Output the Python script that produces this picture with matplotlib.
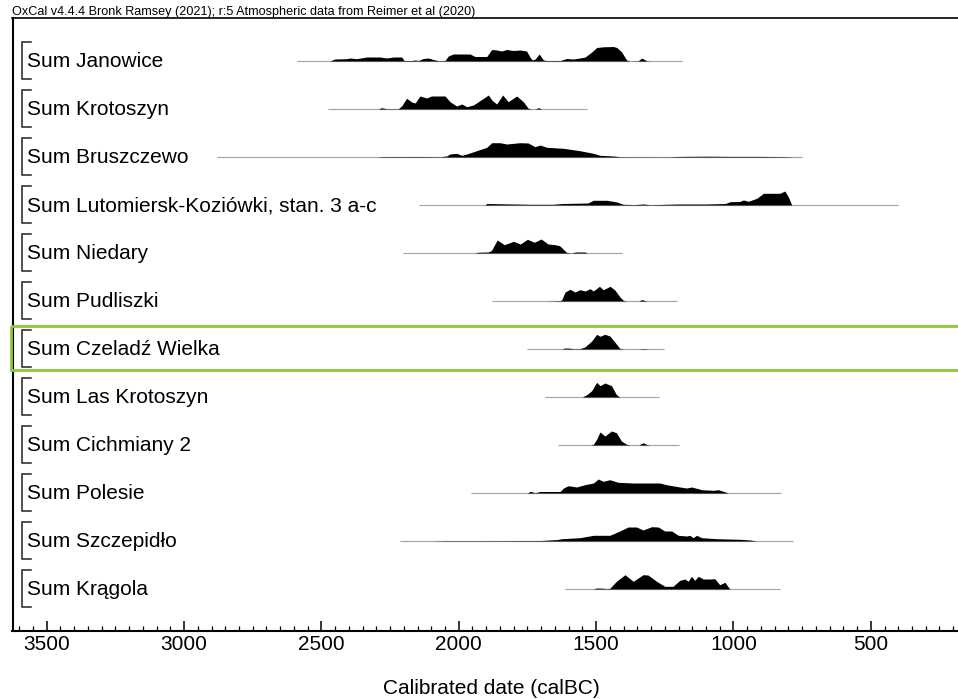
import matplotlib
matplotlib.use("Agg")
import matplotlib.pyplot as plt
from matplotlib.patches import Rectangle
from matplotlib.transforms import blended_transform_factory

plt.rcParams['font.family'] = ['Liberation Sans', 'DejaVu Sans']

TITLE = "OxCal v4.4.4 Bronk Ramsey (2021); r:5 Atmospheric data from Reimer et al (2020)"
XLABEL = "Calibrated date (calBC)"

SITES = ["Sum Janowice", "Sum Krotoszyn", "Sum Bruszczewo",
         "Sum Lutomiersk-Koziówki, stan. 3 a-c", "Sum Niedary", "Sum Pudliszki",
         "Sum Czeladź Wielka", "Sum Las Krotoszyn", "Sum Cichmiany 2",
         "Sum Polesie", "Sum Szczepidło", "Sum Krągola"]

# plotted range of each summed distribution (cal BC)
RANGE_START = [2590, 2475, 2880, 2145, 2203, 1880, 1751, 1686, 1638, 1954, 2214, 1613]
RANGE_END = [1187, 1534, 750, 400, 1405, 1207, 1254, 1270, 1197, 826, 782, 830]

# (year calBC, relative probability)
JANOWICE = [(2469, 0), (2451, 2), (2408, 2.3), (2396, 3), (2372, 2.3), (2335, 4), (2287, 4),
            (2262, 3), (2238, 4), (2208, 4), (2199, 0.5), (2171, 0.5), (2159, 1), (2147, 0.5),
            (2129, 2.5), (2111, 3), (2093, 1.5), (2074, 0.3), (2050, 0.5), (2038, 5), (2020, 7),
            (1959, 7), (1941, 4.5), (1898, 4.5), (1880, 11.5), (1862, 11), (1844, 10),
            (1826, 11.5), (1801, 10.5), (1777, 11), (1753, 10), (1741, 4), (1732, 1), (1722, 2),
            (1707, 7), (1692, 1), (1680, 0.5), (1631, 0.5), (1607, 2.5), (1583, 2), (1559, 3),
            (1540, 4), (1516, 9), (1498, 13.5), (1474, 14.2), (1437, 14.5), (1425, 13.5),
            (1407, 9), (1389, 1), (1377, 0), (1346, 0.3), (1334, 3), (1316, 0.3), (1304, 0)]
KROTOSZYN = [(2293, 0), (2281, 1.3), (2262, 0.3), (2220, 0.3), (2208, 3), (2190, 10.7),
             (2171, 7), (2159, 6), (2141, 13), (2117, 11), (2099, 13), (2050, 13), (2032, 7.3),
             (2008, 3), (1989, 5), (1971, 2.3), (1947, 4), (1923, 8.3), (1892, 14), (1880, 9),
             (1862, 5), (1840, 14), (1820, 7.3), (1789, 13), (1765, 7.3), (1747, 0.7),
             (1735, 0), (1723, 0), (1710, 1.3), (1698, 0)]
BRUSZCZEWO = [(2300, 0), (2280, 0.4), (2150, 0.5), (2068, 0.3), (2044, 1), (2032, 3),
              (2008, 3.7), (1989, 1.7), (1971, 3), (1935, 6.3), (1898, 9.7), (1880, 14.3),
              (1850, 14.3), (1826, 13), (1777, 14.3), (1747, 14), (1723, 10.3), (1704, 12),
              (1680, 9.7), (1619, 8.7), (1559, 6.3), (1510, 3.7), (1486, 1.7), (1437, 1),
              (1413, 0.3), (1240, 0.2), (1190, 0.6), (1100, 0.8), (1000, 0.6), (900, 0.6),
              (800, 0.3), (780, 0)]
LUTOMIERSK = [(1905, 0), (1898, 1.5), (1800, 1), (1741, 0.7), (1660, 0.7), (1620, 1.5),
              (1530, 2), (1510, 4.7), (1461, 4.7), (1425, 3), (1401, 0.7), (1360, 0.4),
              (1328, 1), (1304, 0.3), (1200, 1), (1100, 1), (1029, 1.5), (1013, 3.3),
              (978, 3.5), (964, 5), (946, 3.7), (915, 6.7), (891, 11.7), (867, 11.7),
              (831, 11.7), (813, 14), (800, 8), (788, 0)]
NIEDARY = [(1943, 0), (1927, 0.8), (1893, 1), (1881, 2.5), (1860, 13), (1834, 8.3),
           (1801, 11.7), (1776, 9), (1750, 13.7), (1725, 10.7), (1700, 14), (1675, 9),
           (1650, 8.3), (1633, 7.3), (1608, 0.7), (1591, 0), (1574, 1), (1541, 1), (1532, 0)]
PUDLISZKI = [(1680, 0), (1630, 0.4), (1625, 1.3), (1613, 9), (1595, 11.7), (1577, 9),
             (1559, 11.3), (1540, 10), (1522, 12.3), (1510, 10), (1488, 14.7), (1474, 11.3),
             (1449, 14.7), (1431, 10.7), (1413, 4), (1401, 0.7), (1390, 0), (1345, 0),
             (1334, 1.3), (1322, 0.5), (1315, 0)]
CZELADZ = [(1625, 0), (1613, 1), (1595, 0.8), (1583, 0.3), (1560, 0.3), (1541, 2), (1516, 8),
           (1498, 14.7), (1486, 12.7), (1468, 14.7), (1450, 13), (1432, 7), (1414, 0.7),
           (1400, 0), (1345, 0), (1335, 0.4), (1320, 0.3), (1310, 0)]
LAS_KROTOSZYN = [(1550, 0), (1534, 2.3), (1516, 6.3), (1498, 14.7), (1486, 11.3),
                 (1468, 14), (1444, 11.3), (1426, 2.3), (1414, 0)]
CICHMIANY = [(1520, 0), (1510, 0.7), (1498, 5.7), (1486, 13), (1468, 9), (1444, 14),
             (1426, 12.3), (1408, 4), (1389, 0.7), (1375, 0), (1345, 0), (1329, 2.3),
             (1316, 0.5), (1305, 0)]
POLESIE = [(1750, 0), (1740, 1.7), (1722, 0.3), (1704, 1.5), (1631, 1.5), (1619, 5),
           (1601, 7.3), (1571, 6), (1541, 8.3), (1510, 10), (1492, 14), (1474, 11.7),
           (1450, 13.3), (1420, 10.7), (1365, 10), (1268, 10), (1244, 8.3), (1195, 6),
           (1171, 5), (1153, 6), (1134, 4.7), (1116, 3.3), (1074, 2.7), (1055, 3.3),
           (1037, 1.7), (1019, 0)]
SZCZEPIDLO = [(2100, 0), (2050, 0.3), (1900, 0.3), (1700, 0.5), (1640, 1.5), (1625, 2.3),
              (1559, 3.3), (1510, 5.7), (1450, 5.7), (1414, 10), (1383, 14), (1353, 14),
              (1329, 11), (1298, 14.3), (1274, 14), (1250, 10), (1225, 10), (1201, 5.7),
              (1171, 5), (1159, 5.7), (1147, 3.3), (1134, 5.7), (1116, 3.3), (1061, 2.3),
              (976, 1.7), (939, 1), (915, 0)]
KRAGOLA = [(1510, 0), (1498, 1), (1474, 0.8), (1462, 0.3), (1450, 0.7), (1426, 7.7),
           (1395, 14.3), (1365, 7.7), (1329, 14.3), (1311, 14), (1280, 7.7), (1250, 2.7),
           (1220, 2.7), (1195, 8.7), (1177, 10), (1165, 7.7), (1153, 12.7), (1141, 8.7),
           (1128, 12.7), (1110, 10), (1086, 10), (1068, 10.3), (1050, 4.3), (1031, 6.7),
           (1019, 2), (1013, 0)]

DISTRIBUTIONS = [JANOWICE, KROTOSZYN, BRUSZCZEWO, LUTOMIERSK, NIEDARY, PUDLISZKI,
                 CZELADZ, LAS_KROTOSZYN, CICHMIANY, POLESIE, SZCZEPIDLO, KRAGOLA]
HIGHLIGHT = "Sum Czeladź Wielka"

MAJOR_TICKS = [3500, 3000, 2500, 2000, 1500, 1000, 500]

# ---- layout ----
W, H = 958, 699
fig = plt.figure(figsize=(W / 100, H / 100), dpi=100)
ax_left, ax_right = 12.5, 958.0
ax_top, ax_bot = 18.3, 630.7
ax = fig.add_axes([ax_left / W, 1 - ax_bot / H, (ax_right - ax_left) / W, (ax_bot - ax_top) / H])

ROW_PX = 48.0          # pixel distance between rows
FIRST_ROW_PX = 61.0    # pixel y of the first baseline
SCALE = 1.0 / ROW_PX   # relative probability units -> row units

ax.set_xlim(3624.5, 182.6)
ax.set_ylim((ax_bot - FIRST_ROW_PX) / ROW_PX, (ax_top - FIRST_ROW_PX) / ROW_PX)

for i, (name, dist) in enumerate(zip(SITES, DISTRIBUTIONS)):
    ax.plot([RANGE_START[i], RANGE_END[i]], [i, i], color='#a8a8a8', lw=0.9,
            solid_capstyle='butt', zorder=2)
    yrs = [p[0] for p in dist]
    hs = [i - p[1] * SCALE for p in dist]
    ax.fill_between(yrs, [i] * len(yrs), hs, color='black', lw=0, zorder=3)

trans = blended_transform_factory(ax.transAxes, ax.transData)
axw = ax_right - ax_left


def ax_fx(px):
    return (px - ax_left) / axw


for i, name in enumerate(SITES):
    ax.text(ax_fx(27.0), i + 6.0 / ROW_PX, name, transform=trans, fontsize=15,
            va='baseline', ha='left', color='black', zorder=4)
    top = i - 19.0 / ROW_PX
    bot = i + 18.0 / ROW_PX
    bx0, bx1 = ax_fx(21.7), ax_fx(31.0)
    ax.plot([bx1, bx0, bx0, bx1], [top, top, bot, bot], transform=trans,
            color='#222222', lw=1.1, clip_on=False, zorder=4,
            solid_joinstyle='miter')
    if name == HIGHLIGHT:
        rect = Rectangle((ax_fx(11.0), i - 23.5 / ROW_PX), 1.2, 44.5 / ROW_PX,
                         transform=trans, fill=False, edgecolor='#8cc63f', lw=2.0,
                         clip_on=False, zorder=5)
        ax.add_patch(rect)

# axes styling
ax.spines['right'].set_visible(False)
ax.spines['left'].set_linewidth(1.5)
ax.spines['top'].set_linewidth(1.2)
ax.spines['bottom'].set_linewidth(1.5)
ax.set_yticks([])
ax.set_xticks(MAJOR_TICKS)
ax.set_xticklabels([str(t) for t in MAJOR_TICKS])
ax.set_xticks(list(range(3600, 150, -50)), minor=True)
ax.tick_params(axis='x', which='major', direction='in', length=7.5, width=1.1,
               labelsize=15, pad=3)
ax.tick_params(axis='x', which='minor', direction='in', length=3.8, width=0.9)

fig.text(491 / W, 1 - 688 / H, XLABEL, fontsize=15, ha='center', va='center')

# title fitted to its width in the reference
t = fig.text(11.7 / W, 1 - 15.5 / H, TITLE, fontsize=8, ha='left', va='baseline')
fig.canvas.draw()
r = fig.canvas.get_renderer()
wpx = t.get_window_extent(r).width
t.set_fontsize(8 * 463.0 / wpx)

fig.savefig("out.png", dpi=100)
